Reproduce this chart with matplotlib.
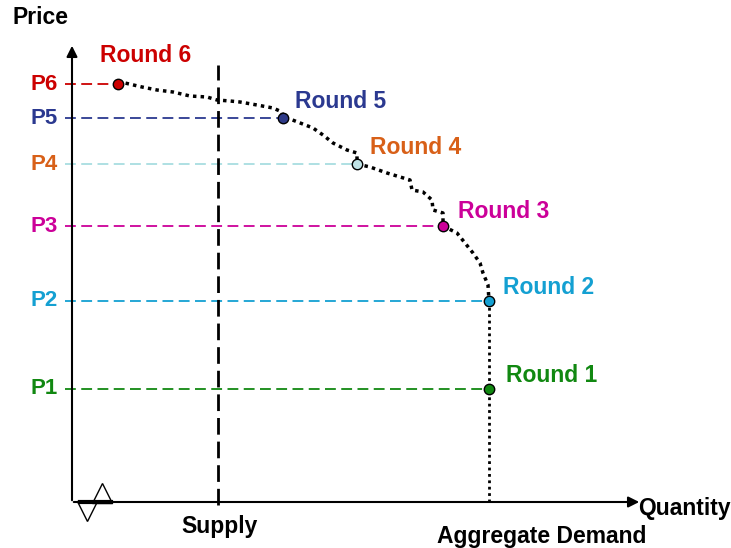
import matplotlib.pyplot as plt

plt.rcParams['font.family'] = ['Liberation Sans', 'DejaVu Sans']

# price levels P1..P6 and the quantity where each round clears
labels = ['P1', 'P2', 'P3', 'P4', 'P5', 'P6']
rounds = ['Round 1', 'Round 2', 'Round 3', 'Round 4', 'Round 5', 'Round 6']
prices = [113, 201, 276, 338, 384, 418]
qty = [417, 417, 371, 285, 211, 46]
supply_q = 146

# stepped aggregate demand curve (round 6 -> round 2)
dem_q = [46, 53, 70, 85, 101, 118, 135, 145, 158, 168, 185, 201, 210, 211,
         218, 241, 251, 261, 275, 285, 285,
         298, 315, 338, 340, 351, 360, 361, 371, 371,
         385, 393, 401, 408, 411, 416, 417]
dem_p = [418, 419, 415, 412, 410, 406, 405, 402, 401, 400, 397, 394, 390, 384,
         383, 374, 367, 359, 352, 349, 338,
         335, 329, 322, 312, 310, 302, 292, 289, 276,
         269, 259, 249, 239, 229, 217, 201]

text_col = ['#118811', '#14a0d2', '#cc0099', '#d86018', '#2b3990', '#cc0000']
line_col = ['#118811', '#14a0d2', '#cc0099', '#a8dde0', '#2b3990', '#cc0000']
face_col = ['#118811', '#14a0d2', '#cc0099', '#bfe3e6', '#2e3a87', '#cc0000']
round_pos = [(434, 126), (431, 214), (386, 291), (298, 354), (223, 400), (28, 447)]

fig = plt.figure(figsize=(7.31, 5.48), dpi=100)
ax = fig.add_axes([0, 0, 1, 1])
ax.set_xlim(-72, 659)
ax.set_ylim(-46, 502)
ax.axis('off')

# axes with arrows
ax.annotate('', xy=(0, 459), xytext=(0, -1),
            arrowprops=dict(arrowstyle='-|>', lw=1.5, color='black', mutation_scale=16))
ax.annotate('', xy=(570, 0), xytext=(-1, 0),
            arrowprops=dict(arrowstyle='-|>', lw=1.5, color='black', mutation_scale=16))

# horizontal dashed price lines
for p, q, c in zip(prices, qty, line_col):
    ax.plot([-7, q], [p, p], color=c, lw=1.3, dashes=(6, 3), zorder=2)

# supply
ax.plot([supply_q, supply_q], [-3, 437], color='black', lw=2, dashes=(6, 2.5), zorder=2)

# demand
ax.plot(dem_q, dem_p, color='black', lw=2.5, linestyle=(0, (1, 1.2)), zorder=3)
ax.plot([qty[1], qty[1]], [prices[1], -2], color='black', lw=2, linestyle=(0, (1, 1.3)), zorder=3)

for q, p, fc in zip(qty, prices, face_col):
    ax.plot(q, p, 'o', ms=7.5, mfc=fc, mec='black', mew=1, zorder=4)

for lab, p, c in zip(labels, prices, text_col):
    ax.text(-14, p, lab, color=c, fontsize=16, fontweight='bold', ha='right', va='center')

for r, (x, y), c in zip(rounds, round_pos, text_col):
    ax.text(x, y, r, color=c, fontsize=16.5, fontweight='bold', ha='left', va='center')

ax.text(-60, 484, 'Price', fontsize=16.5, fontweight='bold', ha='left', va='center')
ax.text(566, -7, 'Quantity', fontsize=16.5, fontweight='bold', ha='left', va='center')
ax.text(148, -25, 'Supply', fontsize=16.5, fontweight='bold', ha='center', va='center')
ax.text(470, -34, 'Aggregate Demand', fontsize=16.5, fontweight='bold', ha='center', va='center')

# axis break symbol
ax.plot([8, 39], [0, 0], color='black', lw=3, zorder=5)
ax.plot([30], [9], marker='^', ms=14, mfc='none', mec='black', mew=1, zorder=5)
ax.plot([15], [-9], marker='v', ms=14, mfc='none', mec='black', mew=1, zorder=5)

fig.savefig('out.png', dpi=100)
